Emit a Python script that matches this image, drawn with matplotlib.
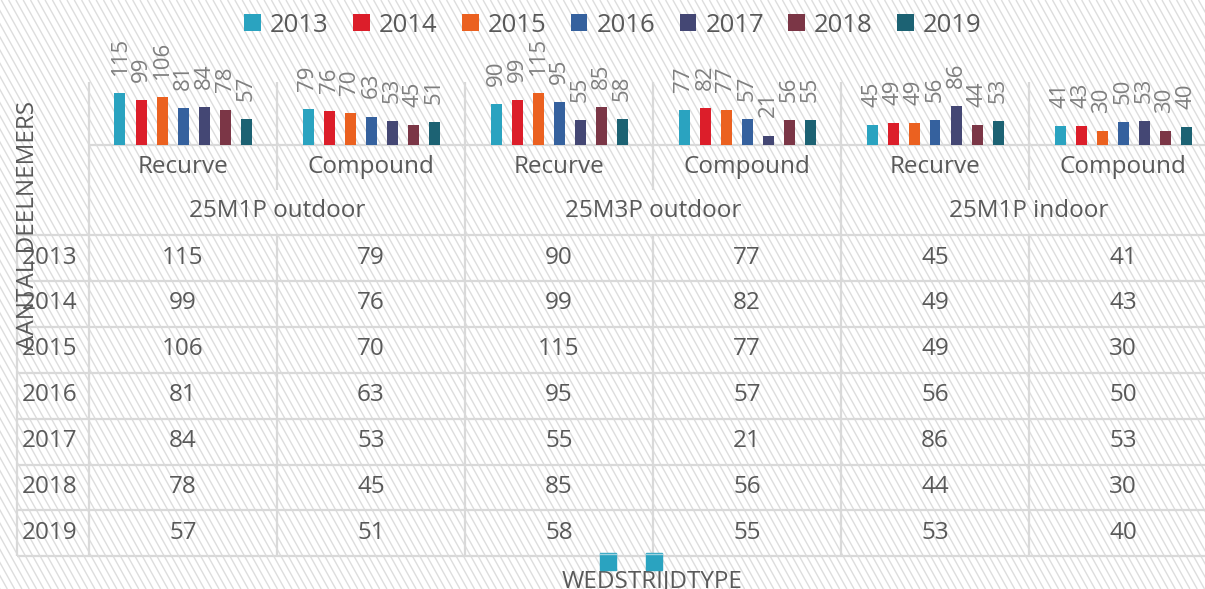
import numpy as np
import matplotlib.pyplot as plt
from matplotlib.collections import LineCollection
from matplotlib.patches import Rectangle

plt.rcParams['font.family'] = ['Open Sans', 'DejaVu Sans']

years = ['2013', '2014', '2015', '2016', '2017', '2018', '2019']
bow_types = ['Recurve', 'Compound', 'Recurve', 'Compound', 'Recurve', 'Compound']
formats = ['25M1P outdoor', '25M3P outdoor', '25M1P indoor']
# one list per year, columns in the order of bow_types
vals_2013 = [115, 79, 90, 77, 45, 41]
vals_2014 = [99, 76, 99, 82, 49, 43]
vals_2015 = [106, 70, 115, 77, 49, 30]
vals_2016 = [81, 63, 95, 57, 56, 50]
vals_2017 = [84, 53, 55, 21, 86, 53]
vals_2018 = [78, 45, 85, 56, 44, 30]
vals_2019 = [57, 51, 58, 55, 53, 40]
series = [vals_2013, vals_2014, vals_2015, vals_2016, vals_2017, vals_2018, vals_2019]
colors = ['#2AA3C0', '#DC1E2A', '#EB6120', '#35619E', '#444774', '#7B3646', '#1C6273']

txt = '#595959'
grid = '#D9D9D9'
fs = 17.5

W, H = 1205, 589
fig = plt.figure(figsize=(12.05, 5.89), dpi=100)

# background with the diagonal stripes, in pixel units
bg = fig.add_axes([0, 0, 1, 1])
bg.set_xlim(0, W)
bg.set_ylim(H, 0)
bg.axis('off')
slope = 1.8
segs = [[(x, 0), (x + H / slope, H)] for x in np.arange(-H / slope, W, 7.3)]
bg.add_collection(LineCollection(segs, colors='#DDDDDD', linewidths=1.0))

# layout (pixels)
left_px, col_w, axis_y = 89, 188, 145
ymax, px_per = 140, 0.452
top_px = axis_y - ymax * px_per
row_top, row_h, head_left = 235, 45.9, 17

ax = fig.add_axes([left_px / W, 1 - axis_y / H, 6 * col_w / W, (axis_y - top_px) / H])
ax.patch.set_alpha(0)
x = np.arange(len(bow_types))
pitch, bw = 21 / col_w, 11 / col_w
for i, (yr, vals, c) in enumerate(zip(years, series, colors)):
    bars = ax.bar(x + (i - 3) * pitch, vals, bw, color=c, label=yr)
    ax.bar_label(bars, rotation=90, padding=13, color='#7F7F7F', fontsize=16)
ax.set_xlim(-0.5, 5.5)
ax.set_ylim(0, ymax)
ax.axis('off')

# axis line and table grid
lk = dict(color=grid, lw=1.6, solid_capstyle='butt')
bg.plot([left_px, W], [axis_y, axis_y], **lk)
for k in range(7):
    xk = left_px + k * col_w
    bg.plot([xk, xk], [top_px, 190 if k % 2 else row_top], **lk)
    bg.plot([xk, xk], [row_top, row_top + 7 * row_h], **lk)
bg.plot([head_left, head_left], [row_top, row_top + 7 * row_h], **lk)
for r in range(8):
    yr_ = row_top + r * row_h
    bg.plot([head_left, W], [yr_, yr_], **lk)

for k, name in enumerate(bow_types):
    bg.text(left_px + (k + 0.5) * col_w, 173, name, ha='center', va='baseline',
            fontsize=fs, color=txt)
for g, name in enumerate(formats):
    bg.text(left_px + (2 * g + 1) * col_w, 217, name, ha='center', va='baseline',
            fontsize=fs, color=txt)
for r, (yr, vals) in enumerate(zip(years, series)):
    yb = row_top + r * row_h + 28.5
    bg.text(22, yb, yr, ha='left', va='baseline', fontsize=fs, color=txt)
    for k, v in enumerate(vals):
        bg.text(left_px + (k + 0.5) * col_w, yb, str(v), ha='center', va='baseline',
                fontsize=fs, color=txt)

bg.text(28, 225, 'AANTAL DEELNEMERS', rotation=90, ha='center', va='center',
        fontsize=fs, color=txt)
bg.text(652, 587, 'WEDSTRIJDTYPE', ha='center', va='baseline', fontsize=fs, color=txt)

# two stray key squares under the table
for xs in (600, 646):
    bg.add_patch(Rectangle((xs, 553), 16, 17, color=colors[0], zorder=5))
    bg.plot([xs, xs + 16], [554, 554], color='#9FD3E0', lw=1, zorder=6)

fig.legend(loc='center', bbox_to_anchor=(613 / W, 1 - 25 / H), ncol=7, frameon=False,
           fontsize=18.5, labelcolor=txt, handlelength=0.65, handleheight=0.65,
           handletextpad=0.35, columnspacing=0.95)

fig.savefig('out.png', dpi=100)
